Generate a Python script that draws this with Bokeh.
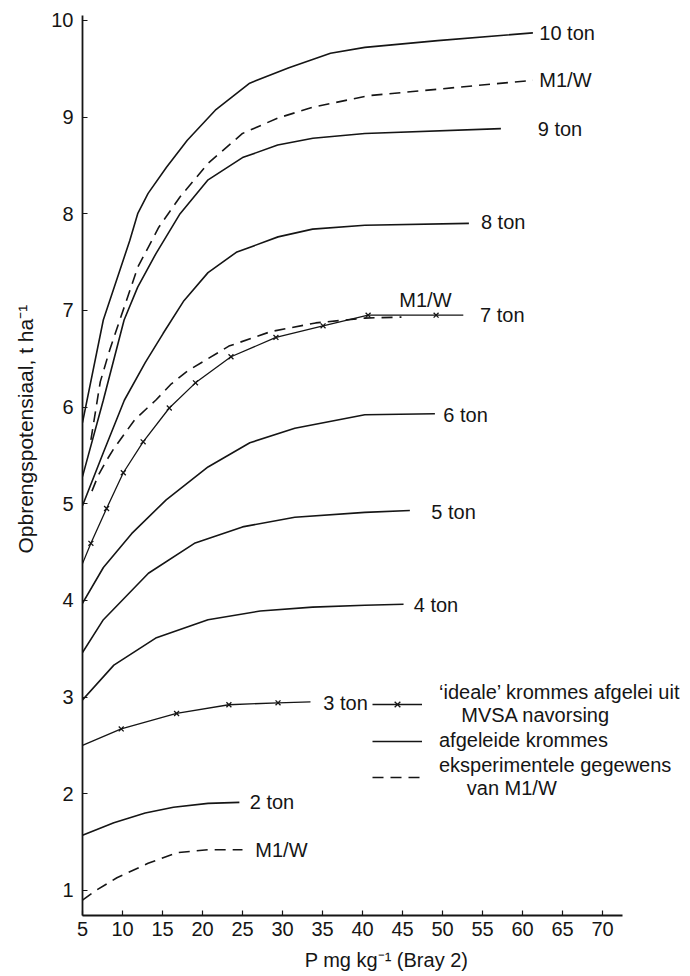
from bokeh.plotting import figure
from bokeh.models import FixedTicker, Legend, LegendItem, Range1d, Title
from bokeh.core.properties import value
from bokeh.embed import file_html
from bokeh.resources import INLINE

# ---- data (x: P mg/kg Bray 2, y: yield potential t/ha) ----
ton10_x = [5, 7.6, 10.9, 11.9, 13.2, 15.5, 18.1, 21.6, 25.9, 30.8, 36.0, 40.3, 49.4, 61.3]
ton10_y = [5.84, 6.90, 7.72, 8.00, 8.21, 8.48, 8.76, 9.07, 9.35, 9.51, 9.66, 9.72, 9.79, 9.87]

m1w_hi_x = [6.05, 7.22, 8.40, 9.58, 10.49, 11.93, 14.54, 17.16, 20.69, 25.0, 29.44, 33.76, 40.69, 61.3]
m1w_hi_y = [5.66, 6.26, 6.59, 6.88, 7.10, 7.45, 7.86, 8.17, 8.52, 8.83, 8.99, 9.10, 9.22, 9.38]

ton9_x = [5, 7.6, 10.2, 11.9, 14.2, 17.2, 20.7, 25.0, 29.4, 33.8, 40.3, 57.3]
ton9_y = [5.28, 6.07, 6.90, 7.24, 7.59, 8.00, 8.35, 8.58, 8.71, 8.78, 8.83, 8.88]

ton8_x = [5, 7.61, 10.23, 12.84, 15.07, 17.68, 20.69, 24.22, 29.44, 33.76, 40.29, 53.3]
ton8_y = [4.98, 5.53, 6.07, 6.46, 6.76, 7.10, 7.39, 7.60, 7.76, 7.84, 7.88, 7.90]

m1w_mid_x = [6.18, 6.96, 7.88, 8.92, 10.23, 11.54, 13.10, 14.15, 16.11, 18.07, 23.30, 28.53,
             34.15, 40.29, 44.87]
m1w_mid_y = [5.13, 5.29, 5.43, 5.57, 5.72, 5.87, 5.99, 6.07, 6.24, 6.37, 6.63, 6.78,
             6.87, 6.92, 6.93]

ideal7_x = [5, 6.05, 8.01, 10.1, 12.58, 15.85, 19.12, 23.56, 29.18, 35.07, 40.7, 49.2, 52.6]
ideal7_y = [4.38, 4.59, 4.95, 5.32, 5.64, 5.99, 6.25, 6.52, 6.72, 6.84, 6.95, 6.95, 6.95]

ton6_x = [5, 7.61, 11.14, 15.46, 20.69, 25.92, 31.54, 40.29, 49.05]
ton6_y = [3.97, 4.34, 4.69, 5.04, 5.38, 5.63, 5.78, 5.92, 5.93]

ton5_x = [5, 7.61, 13.24, 18.99, 25.0, 31.54, 40.29, 45.92]
ton5_y = [3.46, 3.80, 4.28, 4.59, 4.76, 4.86, 4.91, 4.93]

ton4_x = [5, 8.92, 14.15, 20.69, 27.22, 33.76, 40.29, 45.13]
ton4_y = [2.97, 3.33, 3.61, 3.80, 3.89, 3.93, 3.95, 3.96]

ideal3_x = [5, 9.84, 16.76, 23.3, 29.44, 33.5]
ideal3_y = [2.50, 2.67, 2.83, 2.92, 2.94, 2.95]

ton2_x = [5, 8.92, 12.84, 16.37, 20.69, 24.61]
ton2_y = [1.57, 1.70, 1.80, 1.86, 1.90, 1.91]

m1w_lo_x = [5, 6.7, 9.3, 13.2, 16.8, 20.7, 25.0]
m1w_lo_y = [0.90, 1.00, 1.13, 1.28, 1.39, 1.42, 1.42]

curve_labels = ["10 ton", "M1/W", "9 ton", "8 ton", "M1/W", "7 ton",
                "6 ton", "5 ton", "4 ton", "3 ton", "2 ton", "M1/W"]
curve_label_x = [62.1, 62.1, 61.9, 54.8, 44.6, 54.7, 50.1, 48.6, 46.4, 35.1, 25.9, 26.6]
curve_label_y = [9.87, 9.38, 8.88, 7.91, 7.11, 6.95, 5.92, 4.91, 3.95, 2.94, 1.91, 1.42]

x_ticks = [5, 10, 15, 20, 25, 30, 35, 40, 45, 50, 55, 60, 65, 70]
y_ticks = [1, 2, 3, 4, 5, 6, 7, 8, 9, 10]

x_title = "P mg kg\u207b\u00b9 (Bray 2)"
y_title = "Opbrengspotensiaal, t ha\u207b\u00b9"
legend_labels = ["\u2018ideale\u2019 krommes afgelei uit\n\u00a0\u00a0\u00a0\u00a0MVSA navorsing",
                 "afgeleide krommes",
                 "eksperimentele gegewens\n\u00a0\u00a0\u00a0\u00a0\u00a0van M1/W"]

# ---- style ----
FONT = "Liberation Sans"
INK = "#151515"
FS = "20px"
LW = 1.6
DASH = "11 7"

p = figure(width=690, height=976, output_backend="svg", toolbar_location=None,
           x_range=Range1d(5, 81), y_range=Range1d(0.74, 10.05),
           min_border_left=80, min_border_right=0, min_border_top=15, min_border_bottom=61)
p.outline_line_color = None
p.grid.visible = False
p.background_fill_color = "white"
p.border_fill_color = "white"

for ax in (p.xaxis[0], p.yaxis[0]):
    ax.axis_line_color = INK
    ax.axis_line_width = 1.8
    ax.major_tick_in = 5
    ax.major_tick_out = 0
    ax.major_tick_line_color = INK
    ax.major_tick_line_width = 1.2
    ax.minor_tick_line_color = None
    ax.major_label_text_font = FONT
    ax.major_label_text_font_size = FS
    ax.major_label_text_color = INK

p.xaxis[0].ticker = FixedTicker(ticks=x_ticks)
p.yaxis[0].ticker = FixedTicker(ticks=y_ticks)
p.xaxis[0].bounds = (5, 72.5)
p.yaxis[0].bounds = (0.74, 10.05)
p.xaxis[0].major_label_standoff = 6
p.yaxis[0].major_label_standoff = 9
p.xaxis[0].axis_label = x_title
p.xaxis[0].axis_label_text_font = FONT
p.xaxis[0].axis_label_text_font_size = FS
p.xaxis[0].axis_label_text_font_style = "normal"
p.xaxis[0].axis_label_text_color = INK
p.xaxis[0].axis_label_standoff = 10

# vertical axis title, starting somewhat above the frame bottom as in the original
p.add_layout(Title(text=y_title, align="left", offset=362, standoff=23,
                   text_font=FONT, text_font_size="21px", text_font_style="normal",
                   text_color=INK), "left")

# derived (solid) curves
solid = []
for xs, ys in [(ton10_x, ton10_y), (ton9_x, ton9_y), (ton8_x, ton8_y), (ton6_x, ton6_y),
               (ton5_x, ton5_y), (ton4_x, ton4_y), (ton2_x, ton2_y)]:
    solid.append(p.line(xs, ys, line_color=INK, line_width=LW))

# experimental M1/W (dashed)
dashed = []
for xs, ys in [(m1w_hi_x, m1w_hi_y), (m1w_mid_x, m1w_mid_y), (m1w_lo_x, m1w_lo_y)]:
    dashed.append(p.line(xs, ys, line_color=INK, line_width=LW, line_dash=DASH))

# ideal curves (line with x markers)
ideal_lines = []
ideal_marks = []
for xs, ys in [(ideal7_x, ideal7_y), (ideal3_x, ideal3_y)]:
    ideal_lines.append(p.line(xs, ys, line_color=INK, line_width=1.3))
    ideal_marks.append(p.scatter(xs[1:-1], ys[1:-1], marker="x", size=7,
                                 line_color=INK, line_width=1.3))

p.text(x=curve_label_x, y=curve_label_y, text=curve_labels,
       text_font=value(FONT), text_font_size=FS, text_color=INK,
       text_align="left", text_baseline="middle")

legend = Legend(items=[
    LegendItem(label=legend_labels[0], renderers=[ideal_lines[1], ideal_marks[1]]),
    LegendItem(label=legend_labels[1], renderers=[solid[0]]),
    LegendItem(label=legend_labels[2], renderers=[dashed[0]]),
], location=(290, 115), orientation="vertical",
    label_text_font=FONT, label_text_font_size=FS, label_text_color=INK,
    label_text_line_height=1.15,
    glyph_width=50, glyph_height=20, label_standoff=17, spacing=2,
    padding=0, margin=0, border_line_color=None, background_fill_alpha=0)
p.add_layout(legend)

open("out.html", "w").write(file_html(p, INLINE))
